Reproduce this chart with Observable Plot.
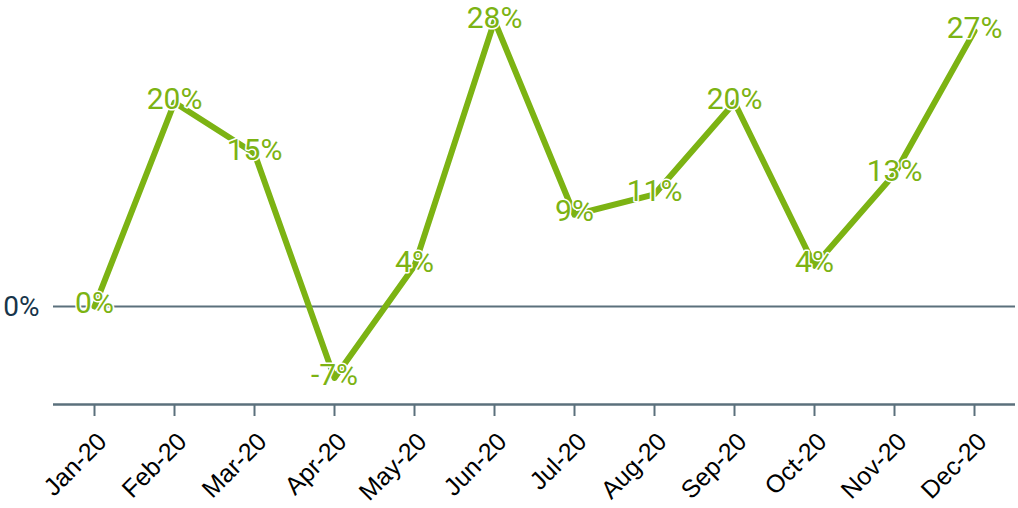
<!DOCTYPE html>
<html>
<head>
<meta charset="utf-8">
<script src="https://cdn.jsdelivr.net/npm/d3@7"></script>
<script src="https://cdn.jsdelivr.net/npm/@observablehq/plot@0.6"></script>
<style>
  html, body { margin: 0; padding: 0; background: #fff; }
  #chart svg { display: block; }
</style>
</head>
<body>
<div id="chart"></div>
<script>
// Monthly change, 2020
const months = ["Jan-20", "Feb-20", "Mar-20", "Apr-20", "May-20", "Jun-20",
                "Jul-20", "Aug-20", "Sep-20", "Oct-20", "Nov-20", "Dec-20"];
const changes = [0, 20, 15, -7, 4, 28, 9, 11, 20, 4, 13, 27];
const yTicks = [0];

const rows = months.map((m, i) => ({month: m, value: changes[i]}));

const green = "#7cb313";
const slate = "#5b707c";
const yMin = -9.6, yMax = 30;

const chart = Plot.plot({
  width: 1018,
  height: 508,
  marginTop: 0,
  marginRight: 3,
  marginBottom: 104,
  marginLeft: 53,
  style: {fontFamily: "'Liberation Sans', Arial, sans-serif", background: "#fff"},
  x: {type: "point", domain: months, padding: 0.5, label: null},
  y: {domain: [yMin, yMax], label: null},
  marks: [
    Plot.ruleY([0], {stroke: slate, strokeWidth: 2}),
    Plot.ruleY([yMin], {stroke: slate, strokeWidth: 2.5}),
    // tick marks only
    Plot.axisX({tickSize: 12, tickFormat: () => "", label: null, stroke: slate, strokeWidth: 2}),
    // rotated month labels
    Plot.axisX({
      tickRotate: -45, tickSize: 0, tickPadding: 0, label: null,
      fontSize: 25, fill: "#000", dx: 8, dy: 33,
      fontFamily: "'Liberation Sans', Arial, sans-serif"
    }),
    Plot.axisY(yTicks, {
      tickSize: 0, tickPadding: 14, tickFormat: d => d + "%", label: null,
      fontSize: 28, fill: "#17354a", fontFamily: "Roboto, sans-serif"
    }),
    Plot.line(rows, {x: "month", y: "value", stroke: green, strokeWidth: 6}),
    Plot.text(rows, {
      x: "month", y: "value", text: d => d.value + "%",
      fill: green, stroke: "white", strokeWidth: 3, paintOrder: "stroke",
      fontSize: 30, fontFamily: "Roboto, sans-serif", dy: -3
    })
  ]
});

document.getElementById("chart").appendChild(chart);
</script>
</body>
</html>
